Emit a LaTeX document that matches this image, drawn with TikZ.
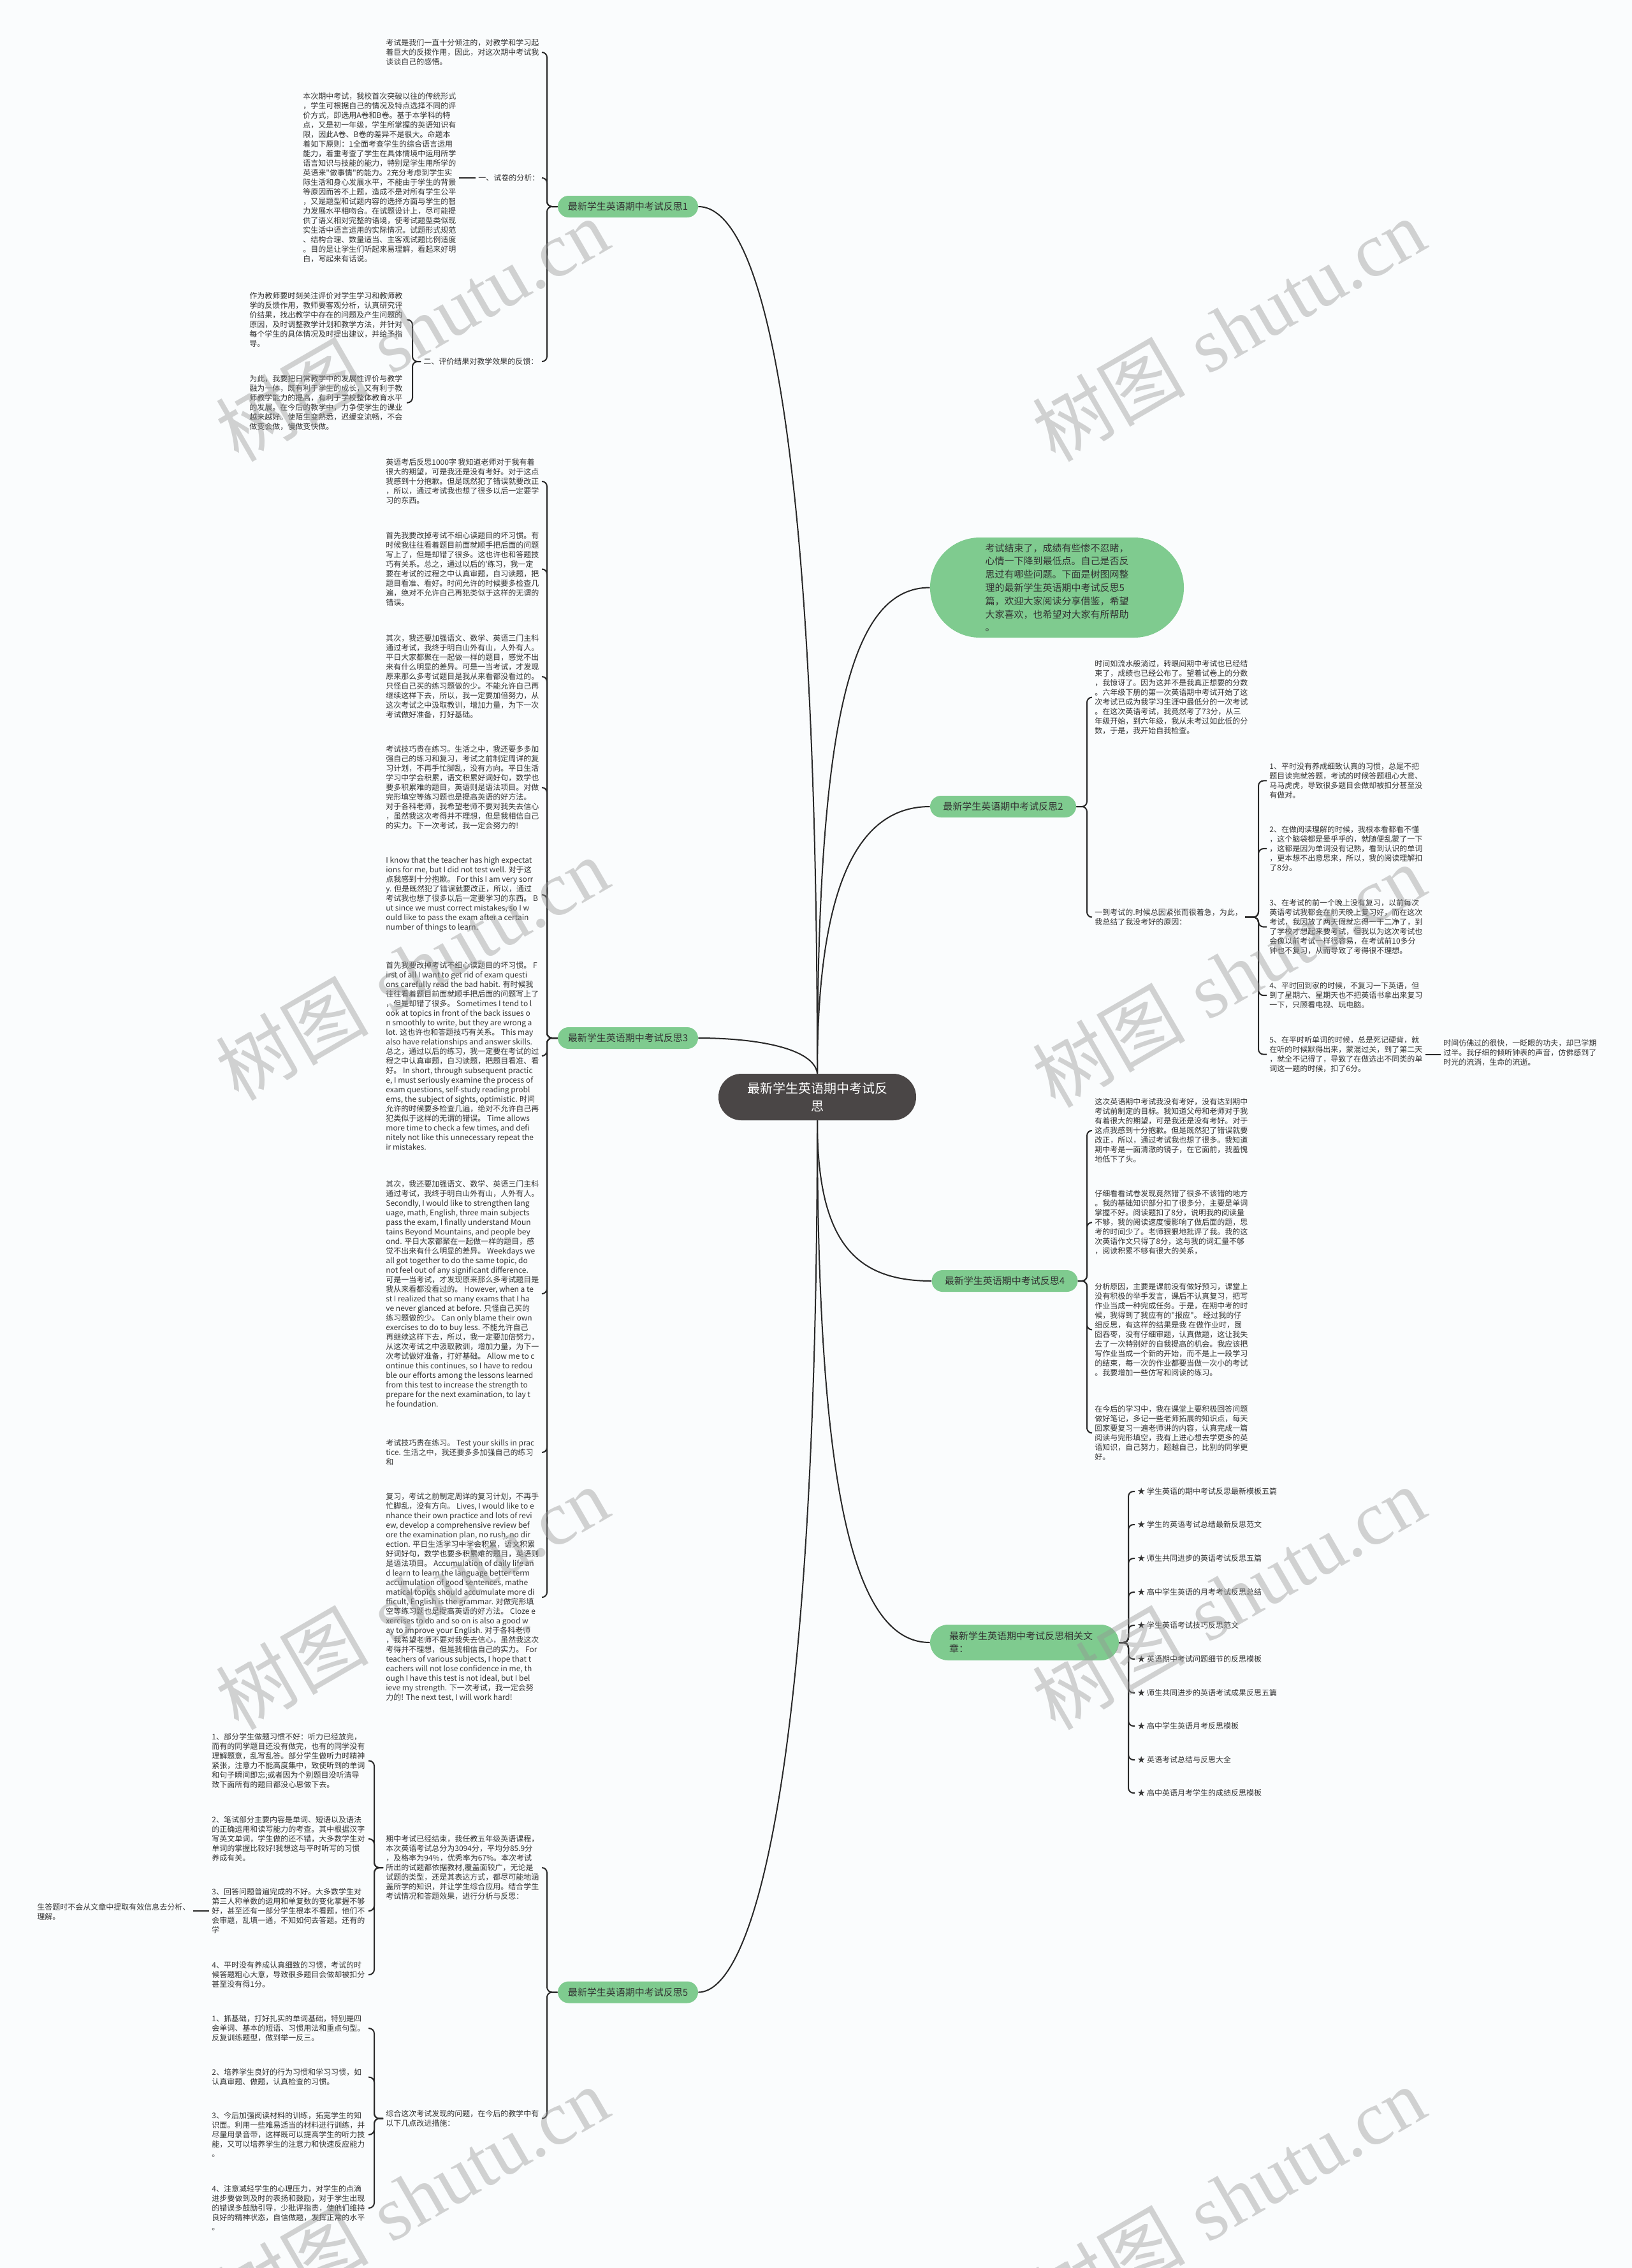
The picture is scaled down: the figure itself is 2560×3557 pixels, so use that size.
\documentclass[tikz,border=0pt]{standalone}
\usepackage{fontspec}
\newfontfamily\cjk{Noto Sans CJK SC}
\newfontfamily\wmserif{Liberation Serif}
\usetikzlibrary{calc}
\definecolor{bgc}{RGB}{250,252,253}
\definecolor{gfill}{RGB}{127,203,143}
\definecolor{rootfill}{RGB}{74,70,70}
\definecolor{txtc}{RGB}{51,51,51}
\definecolor{linec}{RGB}{40,40,40}
\definecolor{wmc}{RGB}{150,150,150}
\tikzset{
 body/.style={font=\cjk\fontsize{6pt}{7.5pt}\selectfont, text=txtc, align=left, anchor=north west, inner xsep=2pt, inner ysep=1pt},
 item/.style={font=\cjk\fontsize{6pt}{7.5pt}\selectfont, text=txtc, anchor=west, inner xsep=2pt, inner ysep=1pt},
 bnode/.style={fill=gfill, rounded corners=8.5pt, font=\cjk\fontsize{7.5pt}{9pt}\selectfont, text=txtc, minimum height=17pt, inner xsep=4pt, inner ysep=0pt},
 conn/.style={draw=linec, line width=1pt},
 hook/.style={conn, rounded corners=4pt},
 wmark/.style={font=\fontsize{60pt}{60pt}\selectfont, text=wmc, opacity=0.42, rotate=30}
}
\begin{document}
\begin{tikzpicture}[x=0.5pt,y=-0.5pt]
\path[fill=bgc, use as bounding box] (0,0) rectangle (2560,3557);

% ---------- root and main branches
\node[fill=rootfill, rounded corners=18pt, minimum width=155pt, minimum height=36.5pt, text=white, font=\cjk\fontsize{10pt}{14pt}\selectfont, align=center] (root) at (1282,1720.5) {最新学生英语期中考试反\\思};

\node[fill=gfill, rounded corners=39pt, minimum width=199pt, minimum height=78.5pt, font=\cjk\fontsize{7.5pt}{10.4pt}\selectfont, text=txtc, align=left] (intro) at (1658,921.5) {考试结束了，成绩有些惨不忍睹，\\心情一下降到最低点。自己是否反\\思过有哪些问题。下面是树图网整\\理的最新学生英语期中考试反思5\\篇，欢迎大家阅读分享借鉴，希望\\大家喜欢，也希望对大家有所帮助\\。};

\node[bnode, minimum width=110pt] (r1) at (985,324) {最新学生英语期中考试反思1};
\node[bnode, minimum width=114.5pt] (r2) at (1573.5,1265) {最新学生英语期中考试反思2};
\node[bnode, minimum width=110pt] (r3) at (985,1628) {最新学生英语期中考试反思3};
\node[bnode, minimum width=114.5pt] (r4) at (1576,2009) {最新学生英语期中考试反思4};
\node[bnode, minimum width=110pt] (r5) at (985,3124.5) {最新学生英语期中考试反思5};
\node[fill=gfill, rounded corners=14pt, minimum width=148pt, minimum height=28pt, inner xsep=15pt, text width=118pt, font=\cjk\fontsize{7.5pt}{10pt}\selectfont, text=txtc, align=left] (rel) at (1607,2576) {最新学生英语期中考试反思相关文\\章：};

\draw[conn] (root.north) .. controls ($(root.north)+(0,-1044)$) and ($(r1.east)+(95,0)$) .. (r1.east);
\draw[conn] (root.north) .. controls ($(root.north)+(0,-574)$) and ($(intro.west)+(-119,0)$) .. (intro.west);
\draw[conn] (root.north) .. controls ($(root.north)+(0,-304)$) and ($(r2.west)+(-109,0)$) .. (r2.west);
\draw[conn] (root.north) .. controls ($(root.north)+(-5,-40)$) and ($(r3.east)+(90,0)$) .. (r3.east);
\draw[conn] (root.south) .. controls ($(root.south)+(0,190)$) and ($(r4.west)+(-120,0)$) .. (r4.west);
\draw[conn] (root.south) .. controls ($(root.south)+(0,600)$) and ($(rel.west)+(-115,0)$) .. (rel.west);
\draw[conn] (root.south) .. controls ($(root.south)+(0,1000)$) and ($(r5.east)+(90,0)$) .. (r5.east);

% ---------- spine coordinates
\coordinate (spL) at (858,0);   \coordinate (hkL) at (850,0);
\coordinate (spC) at (647,0);   \coordinate (hkC) at (638,0);
\coordinate (spR) at (1705,0);  \coordinate (hkR) at (1713,0);
\coordinate (spQ) at (1974,0);  \coordinate (hkQ) at (1987,0);
\coordinate (spA) at (1770,0);
\coordinate (spU) at (587,0);   \coordinate (hkU) at (578,0);

% ---------- branch 1
\node[body] (a1) at (601,59) {考试是我们一直十分倾注的，对教学和学习起\\着巨大的反拨作用，因此，对这次期中考试我\\谈谈自己的感悟。};
\node[body] (b1) at (746,271) {一、试卷的分析：};
\node[body] (ana) at (471,143) {本次期中考试，我校首次突破以往的传统形式\\，学生可根据自己的情况及特点选择不同的评\\价方式，即选用A卷和B卷。基于本学科的特\\点，又是初一年级，学生所掌握的英语知识有\\限，因此A卷、B卷的差异不是很大。命题本\\着如下原则：1全面考查学生的综合语言运用\\能力，着重考查了学生在具体情境中运用所学\\语言知识与技能的能力，特别是学生用所学的\\英语来"做事情"的能力。2充分考虑到学生实\\际生活和身心发展水平，不能由于学生的背景\\等原因而答不上题，造成不是对所有学生公平\\，又是题型和试题内容的选择方面与学生的智\\力发展水平相吻合。在试题设计上，尽可能提\\供了语义相对完整的语境，使考试题型类似现\\实生活中语言运用的实际情况。试题形式规范\\、结构合理、数量适当、主客观试题比例适度\\。目的是让学生们听起来易理解，看起来好明\\白，写起来有话说。};
\node[body] (c1) at (660,559) {二、评价结果对教学效果的反馈：};
\node[body] (c1a) at (387,456) {作为教师要时刻关注评价对学生学习和教师教\\学的反馈作用，教师要客观分析，认真研究评\\价结果，找出教学中存在的问题及产生问题的\\原因，及时调整教学计划和教学方法，并针对\\每个学生的具体情况及时提出建议，并给予指\\导。};
\node[body] (c1b) at (387,586) {为此，我要把日常教学中的发展性评价与教学\\融为一体，既有利于学生的成长，又有利于教\\师教学能力的提高，有利于学校整体教育水平\\的发展。在今后的教学中，力争使学生的课业\\越来越好。使陌生变熟悉，迟缓变流畅，不会\\做变会做，慢做变快做。};

\foreach \c in {a1,b1,c1}
  \draw[hook] (r1.west) -- (r1.west -| spL) |- (\c.east -| hkL);
\draw[conn] (b1.west) -- (ana.east |- b1.west);
\foreach \c in {c1a,c1b}
  \draw[hook] (c1.west) -- (c1.west -| spC) |- (\c.east -| hkC);

% ---------- branch 3
\node[body] (p1) at (601,717) {英语考后反思1000字 我知道老师对于我有着\\很大的期望，可是我还是没有考好。对于这点\\我感到十分抱歉。但是既然犯了错误就要改正\\，所以，通过考试我也想了很多以后一定要学\\习的东西。};
\node[body] (p2) at (601,832) {首先我要改掉考试不细心读题目的坏习惯。有\\时候我往往看着题目前面就顺手把后面的问题\\写上了，但是却错了很多。这也许也和答题技\\巧有关系。总之，通过以后的'练习，我一定\\要在考试的过程之中认真审题，自习读题，把\\题目看准、看好。时间允许的时候要多检查几\\遍，绝对不允许自己再犯类似于这样的无谓的\\错误。};
\node[body] (p3) at (601,993) {其次，我还要加强语文、数学、英语三门主科\\通过考试，我终于明白山外有山，人外有人。\\平日大家都聚在一起做一样的题目，感觉不出\\来有什么明显的差异。可是一当考试，才发现\\原来那么多考试题目是我从来看都没看过的。\\只怪自己买的练习题做的少。不能允许自己再\\继续这样下去，所以，我一定要加倍努力，从\\这次考试之中汲取教训，增加力量，为下一次\\考试做好准备，打好基础。};
\node[body] (p4) at (601,1167) {考试技巧贵在练习。生活之中，我还要多多加\\强自己的练习和复习，考试之前制定周详的复\\习计划，不再手忙脚乱，没有方向。平日生活\\学习中学会积累，语文积累好词好句，数学也\\要多积累难的题目，英语则是语法项目。对做\\完形填空等练习题也是提高英语的好方法。\\对于各科老师，我希望老师不要对我失去信心\\，虽然我这次考得并不理想，但是我相信自己\\的实力。下一次考试，我一定会努力的!};
\node[body] (p5) at (601,1342) {I know that the teacher has high expectat\\ions for me, but I did not test well. 对于这\\点我感到十分抱歉。 For this I am very sorr\\y. 但是既然犯了错误就要改正，所以，通过\\考试我也想了很多以后一定要学习的东西。 B\\ut since we must correct mistakes, so I w\\ould like to pass the exam after a certain\\number of things to learn.};
\node[body] (p6) at (601,1506) {首先我要改掉考试不细心读题目的坏习惯。 F\\irst of all I want to get rid of exam questi\\ons carefully read the bad habit. 有时候我\\往往看着题目前面就顺手把后面的问题写上了\\，但是却错了很多。 Sometimes I tend to l\\ook at topics in front of the back issues o\\n smoothly to write, but they are wrong a\\lot. 这也许也和答题技巧有关系。 This may\\also have relationships and answer skills.\\总之，通过以后的练习，我一定要在考试的过\\程之中认真审题，自习读题，把题目看准、看\\好。 In short, through subsequent practic\\e, I must seriously examine the process of\\exam questions, self-study reading probl\\ems, the subject of sights, optimistic. 时间\\允许的时候要多检查几遍，绝对不允许自己再\\犯类似于这样的无谓的错误。 Time allows\\more time to check a few times, and defi\\nitely not like this unnecessary repeat the\\ir mistakes.};
\node[body] (p7) at (601,1849) {其次，我还要加强语文、数学、英语三门主科\\通过考试，我终于明白山外有山，人外有人。\\Secondly, I would like to strengthen lang\\uage, math, English, three main subjects\\pass the exam, I finally understand Moun\\tains Beyond Mountains, and people bey\\ond. 平日大家都聚在一起做一样的题目，感\\觉不出来有什么明显的差异。 Weekdays we\\all got together to do the same topic, do\\not feel out of any significant difference.\\可是一当考试，才发现原来那么多考试题目是\\我从来看都没看过的。 However, when a te\\st I realized that so many exams that I ha\\ve never glanced at before. 只怪自己买的\\练习题做的少。 Can only blame their own\\exercises to do to buy less. 不能允许自己\\再继续这样下去，所以，我一定要加倍努力，\\从这次考试之中汲取教训，增加力量，为下一\\次考试做好准备，打好基础。 Allow me to c\\ontinue this continues, so I have to redou\\ble our efforts among the lessons learned\\from this test to increase the strength to\\prepare for the next examination, to lay t\\he foundation.};
\node[body] (p8) at (601,2255) {考试技巧贵在练习。 Test your skills in prac\\tice. 生活之中，我还要多多加强自己的练习\\和};
\node[body] (p9) at (601,2339) {复习，考试之前制定周详的复习计划，不再手\\忙脚乱，没有方向。 Lives, I would like to e\\nhance their own practice and lots of revi\\ew, develop a comprehensive review bef\\ore the examination plan, no rush, no dir\\ection. 平日生活学习中学会积累，语文积累\\好词好句，数学也要多积累难的题目，英语则\\是语法项目。 Accumulation of daily life an\\d learn to learn the language better term\\accumulation of good sentences, mathe\\matical topics should accumulate more di\\fficult, English is the grammar. 对做完形填\\空等练习题也是提高英语的好方法。 Cloze e\\xercises to do and so on is also a good w\\ay to improve your English. 对于各科老师\\，我希望老师不要对我失去信心，虽然我这次\\考得并不理想，但是我相信自己的实力。 For\\teachers of various subjects, I hope that t\\eachers will not lose confidence in me, th\\ough I have this test is not ideal, but I bel\\ieve my strength. 下一次考试，我一定会努\\力的! The next test, I will work hard!};
\foreach \c in {p1,p2,p3,p4,p5,p6,p7,p8,p9}
  \draw[hook] (r3.west) -- (r3.west -| spL) |- (\c.east -| hkL);

% ---------- branch 2
\node[body] (q1) at (1713,1033) {时间如流水般淌过，转眼间期中考试也已经结\\束了，成绩也已经公布了。望着试卷上的分数\\，我惊讶了。因为这并不是我真正想要的分数\\。六年级下册的第一次英语期中考试开始了这\\次考试已成为我学习生涯中最低分的一次考试\\。在这次英语考试，我竟然考了73分，从三\\年级开始，到六年级，我从未考过如此低的分\\数，于是，我开始自我检查。};
\node[body] (q2) at (1713,1423) {一到考试的.时候总因紧张而很着急，为此，\\我总结了我没考好的原因：};
\node[body] (s1) at (1987,1194) {1、平时没有养成细致认真的习惯，总是不把\\题目读完就答题，考试的时候答题粗心大意、\\马马虎虎，导致很多题目会做却被扣分甚至没\\有做对。};
\node[body] (s2) at (1987,1293) {2、在做阅读理解的时候，我根本看都看不懂\\，这个脑袋都是晕乎乎的，就随便乱蒙了一下\\，这都是因为单词没有记熟，看到认识的单词\\，更本想不出意思来，所以，我的阅读理解扣\\了8分。};
\node[body] (s3) at (1987,1408) {3、在考试的前一个晚上没有复习，以前每次\\英语考试我都会在前天晚上复习好，而在这次\\考试，我因放了两天假就忘得一干二净了，到\\了学校才想起来要考试，但我以为这次考试也\\会像以前考试一样很容易，在考试前10多分\\钟也不复习，从而导致了考得很不理想。};
\node[body] (s4) at (1987,1538) {4、平时回到家的时候，不复习一下英语，但\\到了星期六、星期天也不把英语书拿出来复习\\一下，只顾看电视、玩电脑。};
\node[body] (s5) at (1987,1623) {5、在平时听单词的时候，总是死记硬背，就\\在听的时候默得出来，蒙混过关，到了第二天\\，就全不记得了，导致了在做选出不同类的单\\词这一题的时候，扣了6分。};
\node[body] (s5c) at (2260,1628) {时间仿佛过的很快，一眨眼的功夫，却已学期\\过半。我仔细的倾听钟表的声音，仿佛感到了\\时光的流淌，生命的流逝。};
\foreach \c in {q1,q2}
  \draw[hook] (r2.east) -- (r2.east -| spR) |- (\c.west -| hkR);
\foreach \c in {s1,s2,s3,s4,s5}
  \draw[hook] (q2.east) -- (q2.east -| spQ) |- (\c.west -| hkQ);
\draw[conn] (s5.east) -- (s5c.west |- s5.east);

% ---------- branch 4
\node[body] (t1) at (1713,1720) {这次英语期中考试我没有考好，没有达到期中\\考试前制定的目标。我知道父母和老师对于我\\有着很大的期望，可是我还是没有考好。对于\\这点我感到十分抱歉。但是既然犯了错误就要\\改正，所以，通过考试我也想了很多。我知道\\期中考是一面清澈的镜子，在它面前，我羞愧\\地低下了头。};
\node[body] (t2) at (1713,1864) {仔细看看试卷发现竟然错了很多不该错的地方\\。我的基础知识部分扣了很多分，主要是单词\\掌握不好。阅读题扣了8分，说明我的阅读量\\不够，我的阅读速度慢影响了做后面的题，思\\考的时间少了。老师狠狠地批评了我。我的这\\次英语作文只得了8分，这与我的词汇量不够\\，阅读积累不够有很大的关系，};
\node[body] (t3) at (1713,2010) {分析原因，主要是课前没有做好预习，课堂上\\没有积极的举手发言，课后不认真复习，把写\\作业当成一种完成任务。于是，在期中考的时\\候，我得到了我应有的"报应"。 经过我的仔\\细反思，有这样的结果是我 在做作业时，囫\\囵吞枣，没有仔细审题，认真做题，这让我失\\去了一次特别好的自我提高的机会。我应该把\\写作业当成一个新的开始，而不是上一段学习\\的结束，每一次的作业都要当做一次小的考试\\。我要增加一些仿写和阅读的练习。};
\node[body] (t4) at (1713,2202) {在今后的学习中，我在课堂上要积极回答问题\\做好笔记，多记一些老师拓展的知识点，每天\\回家要复习一遍老师讲的内容，认真完成一篇\\阅读与完形填空，我有上进心想去学更多的英\\语知识，自己努力，超越自己，比别的同学更\\好。};
\foreach \c in {t1,t2,t3,t4}
  \draw[hook] (r4.east) -- (r4.east -| spR) |- (\c.west -| hkR);

% ---------- related articles
\node[item] (k1) at (1780,2339) {★ 学生英语的期中考试反思最新模板五篇};
\node[item] (k2) at (1780,2391) {★ 学生的英语考试总结最新反思范文};
\node[item] (k3) at (1780,2444) {★ 师生共同进步的英语考试反思五篇};
\node[item] (k4) at (1780,2497) {★ 高中学生英语的月考考试反思总结};
\node[item] (k5) at (1780,2549) {★ 学生英语考试技巧反思范文};
\node[item] (k6) at (1780,2602) {★ 英语期中考试问题细节的反思模板};
\node[item] (k7) at (1780,2655) {★ 师生共同进步的英语考试成果反思五篇};
\node[item] (k8) at (1780,2707) {★ 高中学生英语月考反思模板};
\node[item] (k9) at (1780,2760) {★ 英语考试总结与反思大全};
\node[item] (k10) at (1780,2812) {★ 高中英语月考学生的成绩反思模板};
\foreach \c in {k1,k2,k3,k4,k5,k6,k7,k8,k9,k10}
  \draw[hook] (rel.east) -- (rel.east -| spA) |- (\c.west);

% ---------- branch 5
\node[body] (u1) at (601,2876) {期中考试已经结束，我任教五年级英语课程，\\本次英语考试总分为3094分，平均分85.9分\\，及格率为94\%，优秀率为67\%。本次考试\\所出的试题都依据教材,覆盖面较广，无论是\\试题的类型，还是其表达方式，都尽可能地涵\\盖所学的知识，并让学生综合应用。结合学生\\考试情况和答题效果，进行分析与反思：};
\node[body] (u2) at (601,3307) {综合这次考试发现的问题，在今后的教学中有\\以下几点改进措施：};
\foreach \c in {u1,u2}
  \draw[hook] (r5.west) -- (r5.west -| spL) |- (\c.east -| hkL);

\node[body] (v1) at (328,2716) {1、部分学生做题习惯不好：听力已经放完，\\而有的同学题目还没有做完，也有的同学没有\\理解题意，乱写乱答。部分学生做听力时精神\\紧张，注意力不能高度集中，致使听到的单词\\和句子瞬间即忘;或者因为个别题目没听清导\\致下面所有的题目都没心思做下去。};
\node[body] (v2) at (328,2846) {2、笔试部分主要内容是单词、短语以及语法\\的正确运用和读写能力的考查。其中根据汉字\\写英文单词，学生做的还不错，大多数学生对\\单词的掌握比较好!我想这与平时听写的习惯\\养成有关。};
\node[body] (v3) at (328,2959) {3、回答问题普遍完成的不好。大多数学生对\\第三人称单数的运用和单复数的变化掌握不够\\好，甚至还有一部分学生根本不看题，他们不\\会审题，乱填一通，不知如何去答题。还有的\\学};
\node[body] (v4) at (328,3074) {4、平时没有养成认真细致的习惯，考试的时\\候答题粗心大意，导致很多题目会做却被扣分\\甚至没有得1分。};
\node[body] (v3c) at (54,2983) {生答题时不会从文章中提取有效信息去分析、\\理解。};
\foreach \c in {v1,v2,v3,v4}
  \draw[hook] (u1.west) -- (u1.west -| spU) |- (\c.east -| hkU);
\draw[conn] (v3.west) -- (v3c.east |- v3.west);

\node[body] (w1) at (328,3158) {1、抓基础，打好扎实的单词基础，特别是四\\会单词、基本的短语、习惯用法和重点句型。\\反复训练题型，做到举一反三。};
\node[body] (w2) at (328,3242) {2、培养学生良好的行为习惯和学习习惯，如\\认真审题、做题，认真检查的习惯。};
\node[body] (w3) at (328,3310) {3、今后加强阅读材料的训练，拓宽学生的知\\识面。利用一些难易适当的材料进行训练，并\\尽量用录音带，这样既可以提高学生的听力技\\能，又可以培养学生的注意力和快速反应能力\\。};
\node[body] (w4) at (328,3425) {4、注意减轻学生的心理压力，对学生的点滴\\进步要做到及时的表扬和鼓励，对于学生出现\\的错误多鼓励引导，少批评指责，使他们维持\\良好的精神状态，自信做题，发挥正常的水平\\。};
\foreach \c in {w1,w2,w3,w4}
  \draw[hook] (u2.west) -- (u2.west -| spU) |- (\c.east -| hkU);

% ---------- watermarks
\foreach \p [count=\i] in {(646,517),(1927,517),(646,1519),(1927,1530),(646,2506),(1927,2506),(646,3447),(1927,3447)}
  \node[wmark] (wm\i) at \p {{\cjk 树图} {\wmserif shutu.cn}};
\end{tikzpicture}
\end{document}
